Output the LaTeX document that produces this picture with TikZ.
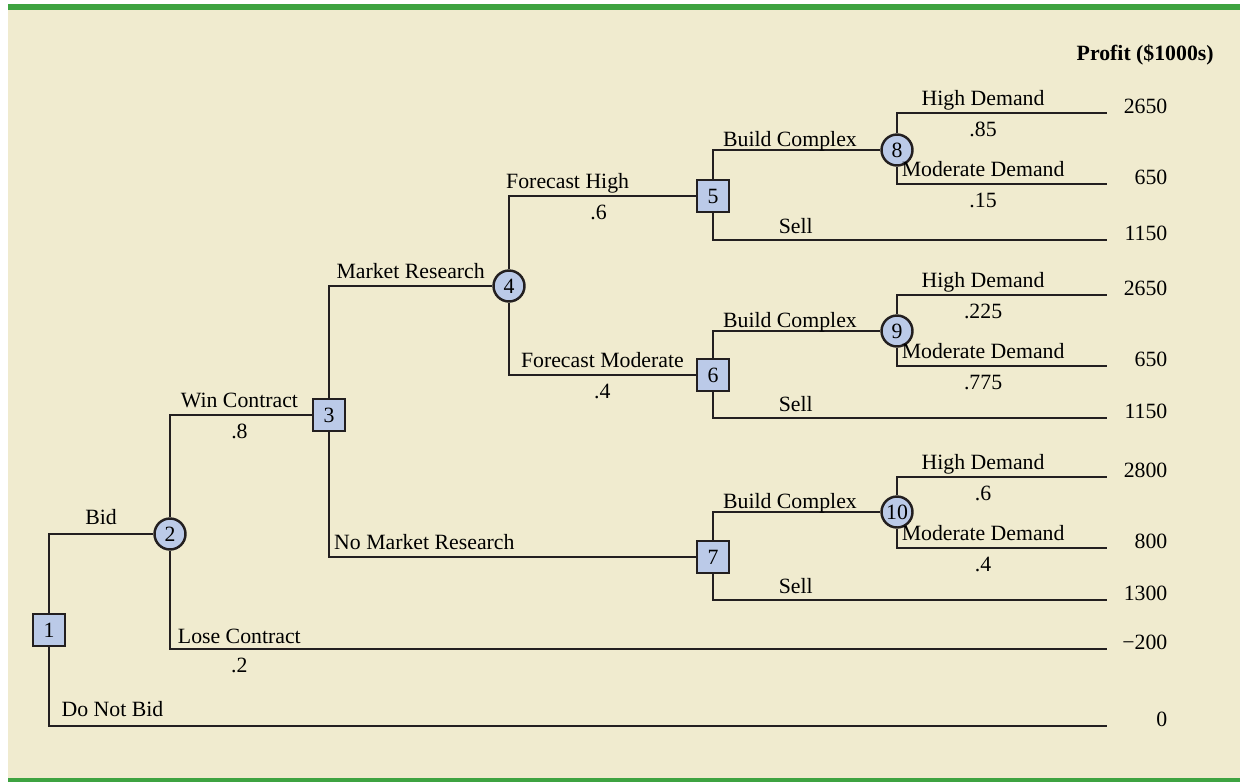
\documentclass[tikz,border=0pt]{standalone}
\usepackage{fontspec}
\setmainfont{Liberation Serif}
\usepackage{xcolor}
\usepackage{tikz}
\usetikzlibrary{positioning}
\definecolor{panelbg}{RGB}{240,235,207}
\definecolor{panelgreen}{RGB}{62,163,65}
\definecolor{nodeblue}{RGB}{187,202,232}
\definecolor{inkline}{RGB}{35,31,32}

\begin{document}
\begin{tikzpicture}[
	x=0.02cm, y=-0.02cm,
	font=\fontsize{12.4}{15}\selectfont,
	decision/.style={rectangle, draw=inkline, fill=nodeblue, line width=1.4pt,
		minimum size=0.64cm, inner sep=0pt},
	chance/.style={circle, draw=inkline, fill=nodeblue, line width=1.4pt,
		minimum size=0.62cm, inner sep=0pt},
	branch/.style={draw=inkline, line width=1.25pt},
	lbl/.style={anchor=base, yshift=0.16cm, inner sep=0pt},
	prob/.style={anchor=north, yshift=-0.16cm, inner sep=0pt},
	payoff/.style={anchor=base west, inner sep=0pt, text width=1.2cm, align=right}
	]
	
	% Panel with green rules
	\useasboundingbox (0,0) rectangle (1240,782);
	\fill[panelbg] (8,10) rectangle (1240,778);
	\fill[panelgreen] (8,4) rectangle (1240,10);
	\fill[panelgreen] (8,778) rectangle (1240,782);
	
	\node[anchor=base east, inner sep=0pt, font=\fontsize{12.4}{15}\selectfont\bfseries] (head) at (1214,60) {Profit (\$1000s)};
	
	% Decision and chance nodes
	\node[decision] (n1) at (49,630) {1};
	\node[chance] (n2) at (170,534) {2};
	\node[decision] (n3) at (329,415) {3};
	\node[chance] (n4) at (509,286) {4};
	\node[decision] (n5) at (713,196) {5};
	\node[decision] (n6) at (713,375) {6};
	\node[decision] (n7) at (713,557) {7};
	\node[chance] (n8) at (897,150) {8};
	\node[chance] (n9) at (897,331) {9};
	\node[chance] (n10) at (897,512) {10};
	
	% Payoffs
	\node[payoff] (v1) at (1107,113) {2650};
	\node[payoff] (v2) at (1107,184) {650};
	\node[payoff] (v3) at (1107,240) {1150};
	\node[payoff] (v4) at (1107,295) {2650};
	\node[payoff] (v5) at (1107,366) {650};
	\node[payoff] (v6) at (1107,418) {1150};
	\node[payoff] (v7) at (1107,477) {2800};
	\node[payoff] (v8) at (1107,548) {800};
	\node[payoff] (v9) at (1107,600) {1300};
	\node[payoff] (v10) at (1107,649) {−200};
	\node[payoff] (v11) at (1107,726) {0};
	
	% Branches
	\draw[branch] (n1) |- node[lbl, pos=0.75, yshift=0.04cm] {Bid} (n2);
	\draw[branch] (n1) |- node[lbl, pos=0.53, yshift=0.04cm] {Do Not Bid} (v11.base west);
	\draw[branch] (n2) |- node[lbl, pos=0.745] {Win Contract} node[prob, pos=0.745] {.8} (n3);
	\draw[branch] (n2) |- node[lbl, pos=0.537, yshift=-0.04cm] {Lose Contract} node[prob, pos=0.537] {.2} (v10.base west);
	\draw[branch] (n3) |- node[lbl, pos=0.75] {Market Research} (n4);
	\draw[branch] (n3) |- node[lbl, pos=0.63] {No Market Research} (n7);
	\draw[branch] (n4) |- node[lbl, pos=0.657] {Forecast High} node[prob, pos=0.74] {.6} (n5);
	\draw[branch] (n4) |- node[lbl, pos=0.75] {Forecast Moderate} node[prob, pos=0.75] {.4} (n6);
	
	\draw[branch] (n5) |- node[lbl, pos=0.73, yshift=-0.09cm] {Build Complex} (n8);
	\draw[branch] (n5) |- node[lbl, pos=0.605, yshift=-0.03cm] {Sell} (v3.base west);
	\draw[branch] (n6) |- node[lbl, pos=0.73, yshift=-0.09cm] {Build Complex} (n9);
	\draw[branch] (n6) |- node[lbl, pos=0.605, yshift=-0.03cm] {Sell} (v6.base west);
	\draw[branch] (n7) |- node[lbl, pos=0.73, yshift=-0.09cm] {Build Complex} (n10);
	\draw[branch] (n7) |- node[lbl, pos=0.605, yshift=-0.03cm] {Sell} (v9.base west);
	
	\draw[branch] (n8) |- node[lbl, pos=0.705] {High Demand} node[prob, pos=0.705] {.85} (v1.base west);
	\draw[branch] (n8) |- node[lbl, pos=0.705] {Moderate Demand} node[prob, pos=0.705] {.15} (v2.base west);
	\draw[branch] (n9) |- node[lbl, pos=0.705] {High Demand} node[prob, pos=0.705] {.225} (v4.base west);
	\draw[branch] (n9) |- node[lbl, pos=0.705] {Moderate Demand} node[prob, pos=0.705] {.775} (v5.base west);
	\draw[branch] (n10) |- node[lbl, pos=0.705] {High Demand} node[prob, pos=0.705] {.6} (v7.base west);
	\draw[branch] (n10) |- node[lbl, pos=0.705] {Moderate Demand} node[prob, pos=0.705] {.4} (v8.base west);
	
\end{tikzpicture}
\end{document}
